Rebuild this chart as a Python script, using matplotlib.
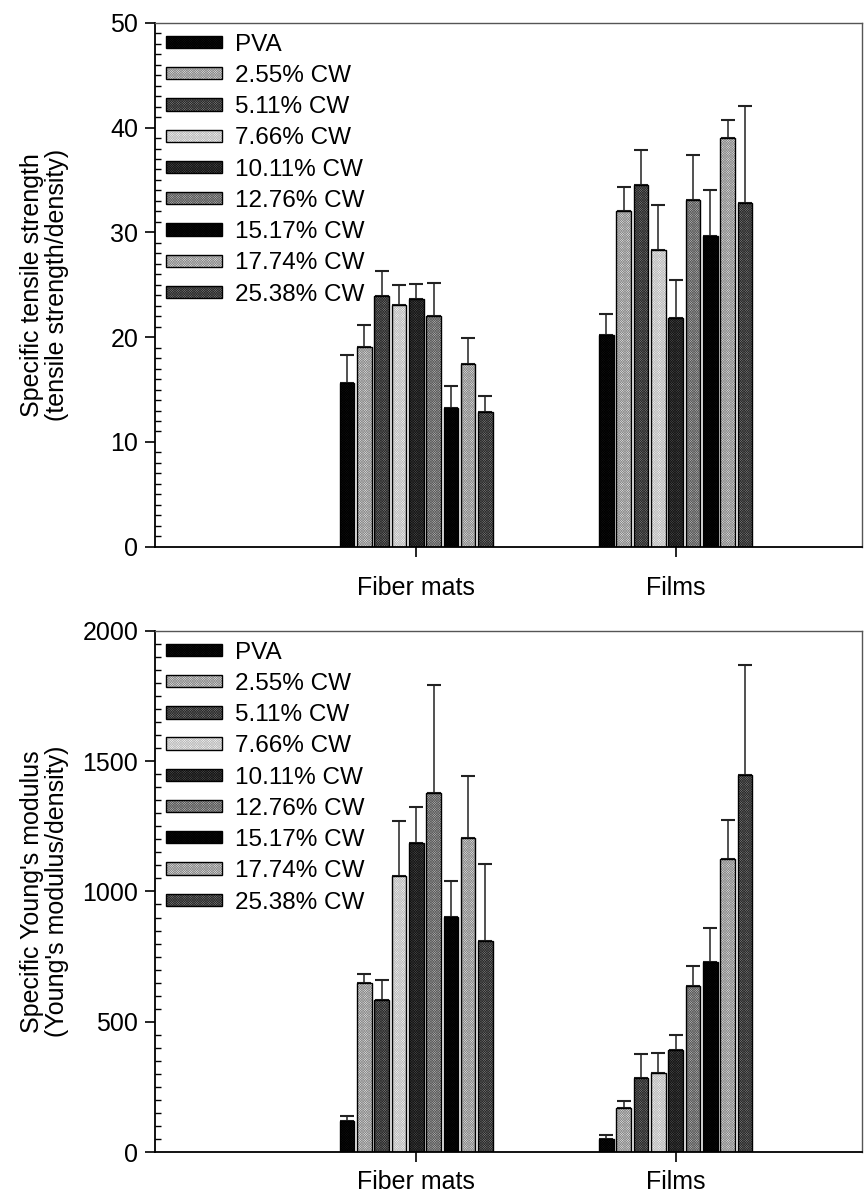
import matplotlib.pyplot as plt
import numpy as np

plt.rcParams['font.family'] = ['Liberation Sans', 'DejaVu Sans']
plt.rcParams['hatch.linewidth'] = 0.45

groups = ['Fiber mats', 'Films']
series = ['PVA', '2.55% CW', '5.11% CW', '7.66% CW', '10.11% CW',
          '12.76% CW', '15.17% CW', '17.74% CW', '25.38% CW']

# specific tensile strength, rows = series, cols = (fiber mats, films)
ts_mean = [[15.6, 20.2], [19.1, 32.0], [23.9, 34.5], [23.1, 28.3], [23.6, 21.8],
           [22.0, 33.1], [13.2, 29.7], [17.4, 39.0], [12.9, 32.8]]
ts_err = [[2.7, 2.0], [2.1, 2.3], [2.4, 3.4], [1.9, 4.3], [1.5, 3.7],
          [3.2, 4.3], [2.1, 4.3], [2.5, 1.7], [1.5, 9.3]]

# specific Young's modulus
ym_mean = [[120, 50], [648, 168], [583, 285], [1060, 305], [1184, 392],
           [1378, 638], [903, 730], [1206, 1125], [810, 1445]]
ym_err = [[18, 15], [36, 28], [77, 90], [212, 75], [140, 58],
          [415, 78], [136, 130], [236, 150], [295, 425]]

# face colour / hatch colour for each series
faces = ['#101010', '#e2e2e2', '#7a7a7a', '#f6f6f6', '#4a4a4a',
         '#b4b4b4', '#0a0a0a', '#e2e2e2', '#7a7a7a']
hatchc = ['#000000', '#8a8a8a', '#2a2a2a', '#bcbcbc', '#151515',
          '#5a5a5a', '#000000', '#8a8a8a', '#2a2a2a']

fig = plt.figure(figsize=(8.65, 11.99), dpi=100)
ax1 = fig.add_axes([0.179, 0.544, 0.818, 0.437])
ax2 = fig.add_axes([0.179, 0.039, 0.818, 0.435])

x = np.arange(len(groups))
slot = 0.0667
width = 0.056


def draw(ax, mean, err, ymax, major, minor, ylabel, xpad):
    handles = []
    for i, name in enumerate(series):
        pos = x + (i - 4) * slot
        b1 = ax.bar(pos, mean[i], width, color=faces[i], hatch='x' * 14,
                    edgecolor=hatchc[i], linewidth=0, zorder=2)
        b2 = ax.bar(pos, mean[i], width, facecolor='none', edgecolor='black',
                    linewidth=1.0, zorder=3)
        ax.errorbar(pos, mean[i], yerr=[[0, 0], err[i]], fmt='none',
                    ecolor='#222222', elinewidth=1.1, capsize=5, capthick=1.5,
                    zorder=1)
        handles.append((b1[0], b2[0]))
    ax.set_xlim(-1.008, 1.72)
    ax.set_ylim(0, ymax)
    ax.set_yticks(np.arange(0, ymax + 1, major))
    ax.set_yticks(np.arange(0, ymax + 1, minor), minor=True)
    ax.set_xticks(x)
    ax.set_xticklabels(groups)
    ax.tick_params(axis='y', which='major', direction='out', length=7,
                   width=1.2, labelsize=18, pad=5)
    ax.tick_params(axis='y', which='minor', direction='in', length=4, width=1)
    ax.tick_params(axis='x', direction='out', length=7, width=1.2,
                   labelsize=18, pad=xpad)
    for s in ['left', 'bottom']:
        ax.spines[s].set_linewidth(1.3)
    for s in ['top', 'right']:
        ax.spines[s].set_linewidth(1.0)
        ax.spines[s].set_color('#555555')
    ax.set_ylabel(ylabel, fontsize=18, linespacing=1.05)
    ax.yaxis.set_label_coords(-0.122, 0.5)
    ax.legend(handles, series, loc='upper left', bbox_to_anchor=(0, 1),
              borderaxespad=0, borderpad=0.45, frameon=False, fontsize=17.5,
              handlelength=2.3, handleheight=0.4, handletextpad=0.55,
              labelspacing=0.38)


draw(ax1, ts_mean, ts_err, 50, 10, 1,
     'Specific tensile strength\n(tensile strength/density)', 14)
draw(ax2, ym_mean, ym_err, 2000, 500, 50,
     "Specific Young's modulus\n(Young's modulus/density)", 6)

plt.savefig('out.png', dpi=100)
